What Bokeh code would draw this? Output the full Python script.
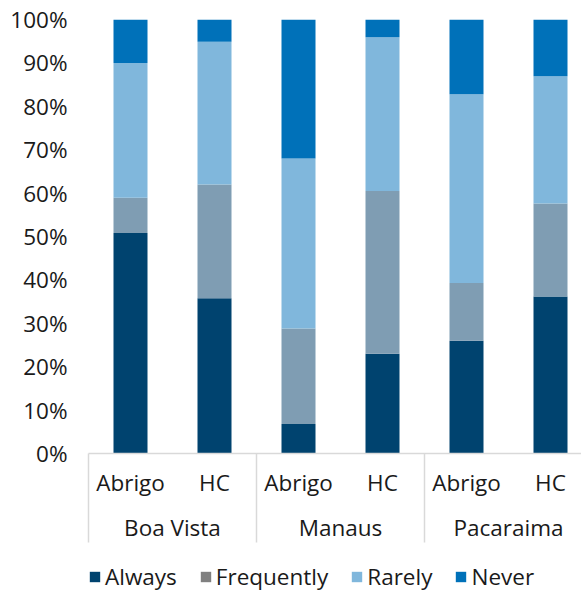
from bokeh.plotting import figure
from bokeh.layouts import column
from bokeh.models import (ColumnDataSource, Range1d, FixedTicker, LinearAxis,
                          Legend, LegendItem, PrintfTickFormatter)
from bokeh.embed import file_html
from bokeh.resources import INLINE

cities = ["Boa Vista", "Manaus", "Pacaraima"]
types = ["Abrigo", "HC"]
series = ["Always", "Frequently", "Rarely", "Never"]
always = [50.8, 35.8, 6.8, 23.0, 26.0, 36.2]
frequently = [8.1, 26.2, 22.0, 37.5, 13.3, 21.4]
rarely = [31.1, 32.9, 39.2, 35.4, 43.5, 29.3]
never = [10.0, 5.1, 32.0, 4.1, 17.2, 13.1]
y_ticks = list(range(0, 101, 10))

colors = ["#00436f", "#7f9db3", "#80b7dc", "#0071b9"]
legend_colors = ["#00436f", "#808080", "#80b7dc", "#0071b9"]

FONT = "Open Sans"
FS = "22.5px"
TXT = "#1a1a1a"
GRAY = "#d9d9d9"

n = len(cities) * len(types)
xs = list(range(n))
sub_labels = [t for c in cities for t in types]
group_pos = [i * len(types) + (len(types) - 1) / 2 for i in range(len(cities))]
sep_pos = [i * len(types) - 0.5 for i in range(len(cities) + 1)]
sep_pos[0] = -0.499

source = ColumnDataSource(dict(x=xs, Always=always, Frequently=frequently,
                               Rarely=rarely, Never=never))

p = figure(width=581, height=556, output_backend="svg", toolbar_location=None,
           x_range=Range1d(-0.5, -0.5 + 493 / 84), y_range=Range1d(0, 100),
           x_axis_location=None, min_border_left=88, min_border_right=0,
           min_border_top=19, min_border_bottom=103)
p.outline_line_color = None
p.xgrid.visible = False
p.ygrid.visible = False

p.vbar_stack(series, x="x", width=34 / 84, source=source, color=colors,
             line_color=None)

# y axis
ya = p.yaxis[0]
ya.ticker = FixedTicker(ticks=y_ticks)
ya.formatter = PrintfTickFormatter(format="%d%%")
ya.axis_line_color = None
ya.major_tick_line_color = None
ya.minor_tick_line_color = None
ya.major_tick_out = 0
ya.major_label_standoff = 21
ya.major_label_text_font = FONT
ya.major_label_text_font_size = FS
ya.major_label_text_color = TXT

# subgroup axis
ax1 = LinearAxis(ticker=FixedTicker(ticks=xs, minor_ticks=sep_pos),
                 major_label_overrides={i: lab for i, lab in zip(xs, sub_labels)})
ax1.axis_line_color = GRAY
ax1.axis_line_width = 1.5
ax1.major_tick_line_color = None
ax1.major_tick_out = 0
ax1.major_tick_in = 0
ax1.minor_tick_line_color = GRAY
ax1.minor_tick_line_width = 1.5
ax1.minor_tick_out = 89
ax1.minor_tick_in = 0
ax1.major_label_standoff = -76
ax1.major_label_text_font = FONT
ax1.major_label_text_font_size = FS
ax1.major_label_text_color = TXT
p.add_layout(ax1, "below")

# group axis
ax2 = LinearAxis(ticker=FixedTicker(ticks=group_pos, minor_ticks=[]),
                 major_label_overrides={g: c for g, c in zip(group_pos, cities)})
ax2.axis_line_color = None
ax2.major_tick_line_color = None
ax2.minor_tick_line_color = None
ax2.major_tick_out = 0
ax2.major_tick_in = 0
ax2.major_label_standoff = 11
ax2.major_label_text_font = FONT
ax2.major_label_text_font_size = FS
ax2.major_label_text_color = TXT
p.add_layout(ax2, "below")

# legend figure
lf = figure(width=581, height=36, output_backend="svg", toolbar_location=None,
            x_range=Range1d(0, 1), y_range=Range1d(0, 1),
            x_axis_location=None, y_axis_location=None,
            min_border_left=0, min_border_right=0, min_border_top=0,
            min_border_bottom=0)
lf.grid.visible = False
lf.outline_line_color = None
items = []
for s, c in zip(series, legend_colors):
    r = lf.vbar(x=[float("nan")], top=[float("nan")], width=0.1, color=c,
                line_color=None)
    items.append(LegendItem(label=s, renderers=[r]))
legend = Legend(items=items, orientation="horizontal", location=(0, 0),
                glyph_width=13, glyph_height=13, label_standoff=4, spacing=22,
                padding=0, margin=0, border_line_color=None,
                background_fill_alpha=0, label_text_font=FONT,
                label_text_font_size=FS, label_text_color=TXT)
lf.add_layout(legend, "center")

layout = column(p, lf, spacing=0)
open("out.html", "w").write(file_html(layout, INLINE))
